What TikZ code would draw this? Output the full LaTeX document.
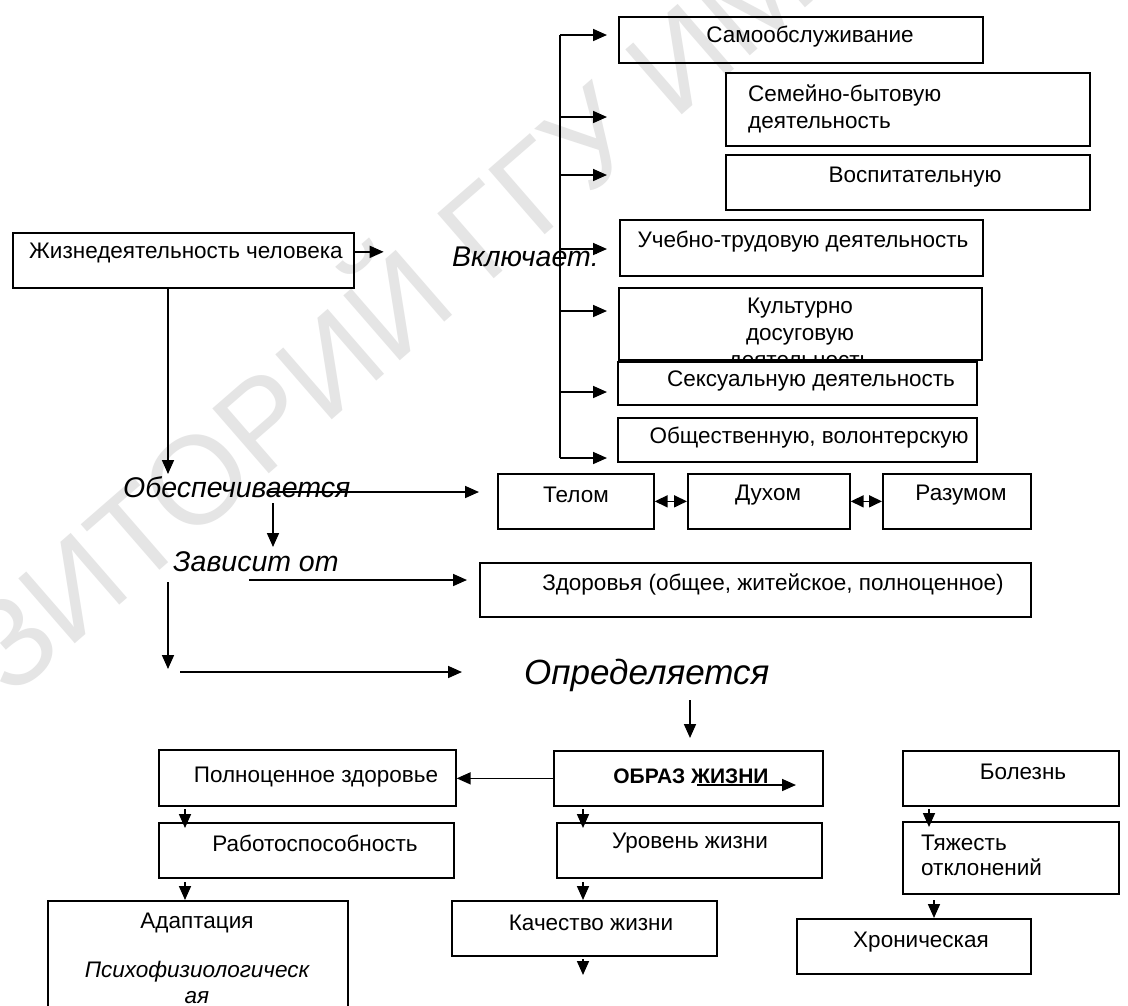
\documentclass[tikz,border=0pt]{standalone}
\usepackage{fontspec}
\setmainfont{Liberation Sans}
\usetikzlibrary{arrows.meta,calc}
\begin{document}
\begin{tikzpicture}[x=1pt,y=-1pt,
  box/.style={draw, line width=1.7pt, rectangle, inner sep=0pt, anchor=north west},
  arr/.style={line width=1.7pt, -{Triangle[length=14pt,width=12pt]}},
  darr/.style={line width=1.7pt, {Triangle[length=13pt,width=12pt]}-{Triangle[length=13pt,width=12pt]}},
  ln/.style={line width=1.7pt},
  txt/.style={font=\fontsize{22.5}{27}\selectfont, inner sep=0pt},
  lbl/.style={font=\fontsize{28.5}{32}\selectfont\itshape, inner sep=0pt, anchor=west},
  wmark/.style={text=black!10, font=\fontsize{125}{125}\selectfont, inner sep=0pt, rotate=41, anchor=base west},
]
\fill[white] (0,0) rectangle (1128,1005);
\useasboundingbox (0,0) rectangle (1128,1005);
\begin{scope}
\clip (0,0) rectangle (1128,1005);
\node[wmark] (wm) at (-257,932) {РЕПОЗИТОРИЙ ГГУ ИМЕНИ Ф. СКОРИНЫ};
\end{scope}

% ---- boxes, top column
\node[box, minimum width=364pt, minimum height=46pt] (samo) at (618,16) {};
\node[box, minimum width=364pt, minimum height=73pt] (semya) at (725,72) {};
\node[box, minimum width=364pt, minimum height=55pt] (vosp) at (725,154) {};
\node[box, minimum width=363pt, minimum height=56pt] (ucheb) at (619,219) {};
\node[box, minimum width=363pt, minimum height=72pt] (kult) at (618,287) {};
\node[txt] (samoT) at (810,37) {Самообслуживание};
\node[txt, align=left, anchor=west] (semyaT) at (748,108.5) {Семейно-бытовую\\деятельность};
\node[txt] (vospT) at (915,177) {Воспитательную};
\node[txt] (uchebT) at (803,242) {Учебно-трудовую деятельность};
\node[txt, align=center] (kultT) at (800,335) {Культурно\\досуговую\\деятельность};
\node[box, fill=white, minimum width=359pt, minimum height=43pt] (seks) at (617,361) {};
\node[box, minimum width=359pt, minimum height=44pt] (obsch) at (617,417) {};
\node[txt] (seksT) at (811,381) {Сексуальную деятельность};
\node[txt] (obschT) at (809,438) {Общественную, волонтерскую};

% ---- left box
\node[box, minimum width=341pt, minimum height=55pt] (zhizn) at (12,232) {};
\node[txt, anchor=west] (zhiznT) at (29,253) {Жизнедеятельность человека};

% ---- middle row
\node[box, minimum width=156pt, minimum height=55pt] (telo) at (497,473) {};
\node[box, minimum width=162pt, minimum height=55pt] (duh) at (687,473) {};
\node[box, minimum width=148pt, minimum height=55pt] (razum) at (882,473) {};
\node[txt] (teloT) at (576,495) {Телом};
\node[txt] (duhT) at (768,495) {Духом};
\node[txt] (razumT) at (961,495) {Разумом};
\node[box, minimum width=551pt, minimum height=54pt] (zdor) at (479,562) {};
\node[txt] (zdorT) at (773,584) {Здоровья (общее, житейское, полноценное)};

% ---- labels
\node[lbl] (vkl) at (452,257) {Включает:};
\node[lbl] (obesp) at (123,487) {Обеспечивается};
\node[lbl] (zavis) at (173,562) {Зависит от};
\node[lbl, font=\fontsize{35}{40}\selectfont\itshape] (opred) at (524,675) {Определяется};

% ---- bottom boxes
\node[box, minimum width=297pt, minimum height=56pt] (poln) at (158,749) {};
\node[box, minimum width=269pt, minimum height=55pt] (obraz) at (553,750) {};
\node[box, minimum width=216pt, minimum height=55pt] (bolezn) at (902,750) {};
\node[box, minimum width=295pt, minimum height=55pt] (rabot) at (158,822) {};
\node[box, minimum width=265pt, minimum height=55pt] (uroven) at (556,822) {};
\node[box, minimum width=216pt, minimum height=72pt] (tyazh) at (902,821) {};
\node[box, minimum width=300pt, minimum height=120pt] (adapt) at (47,900) {};
\node[box, minimum width=265pt, minimum height=55pt] (kach) at (451,900) {};
\node[box, minimum width=234pt, minimum height=55pt] (hron) at (796,918) {};
\node[txt] (polnT) at (316,777) {Полноценное здоровье};
\node[txt, font=\fontsize{21}{25}\selectfont\bfseries] (obrazT) at (691,776) {ОБРАЗ ЖИЗНИ};
\node[txt] (boleznT) at (1023,772) {Болезнь};
\node[txt] (rabotT) at (315,843) {Работоспособность};
\node[txt] (urovenT) at (690,843) {Уровень жизни};
\node[txt, align=left, anchor=west] (tyazhT) at (921,855.5) {Тяжесть\\[-2pt]отклонений};
\node[txt] (adaptT) at (197,923) {Адаптация};
\node[txt, font=\fontsize{22.5}{27}\selectfont\itshape] (psihT) at (197,972) {Психофизиологическ};
\node[txt, font=\fontsize{22.5}{27}\selectfont\itshape] (psih2T) at (197,998) {ая};
\node[txt] (kachT) at (591,923) {Качество жизни};
\node[txt] (hronT) at (921,942) {Хроническая};

% ---- trunk and arrows to the activities
\coordinate (tTop) at (560,35);
\coordinate (tBot) at (560,458);
\draw[ln] (tTop) -- (tBot);
\foreach \y/\n in {35/samo,117/semya,175/vosp,249/ucheb,311/kult,392/seks,458/obsch}{
  \coordinate (e\n) at (607,\y);
  \draw[arr] (tTop |- e\n) -- (e\n);
}
\draw[arr] ([yshift=8.5pt]zhizn.east) -- ++(29,0);

% ---- left chain
\coordinate (d1) at (168,474);
\draw[arr] (zhizn.south -| d1) -- (d1);
\coordinate (o1) at (268,492);
\draw[arr, shorten >=18pt] (o1) -- (telo.west |- o1);
\coordinate (o2) at (273,503);
\coordinate (o3) at (273,547);
\draw[arr] (o2) -- (o3);
\coordinate (z1) at (249,580);
\draw[arr, shorten >=12pt] (z1) -- (zdor.west |- z1);
\coordinate (v1) at (168,582);
\coordinate (v2) at (168,669);
\draw[arr] (v1) -- (v2);
\coordinate (h1) at (180,672);
\coordinate (h2) at (462,672);
\draw[arr] (h1) -- (h2);
\coordinate (p1) at (690,700);
\coordinate (p2) at (690,738);
\draw[arr] (p1) -- (p2);

% ---- double arrows
\draw[darr] (telo.east) -- (duh.west);
\draw[darr] (duh.east) -- (razum.west);

% ---- bottom arrows
\draw[arr] (obraz.west) -- (poln.east |- obraz.west);
\coordinate (u1) at (697,785);
\coordinate (u2) at (796,785);
\draw[arr] (u1) -- (u2);
\coordinate (a1) at (185,809); \coordinate (a2) at (185,828);
\draw[arr] (a1) -- (a2);
\coordinate (a3) at (185,882); \coordinate (a4) at (185,900);
\draw[arr] (a3) -- (a4);
\coordinate (b1) at (583,809); \coordinate (b2) at (583,828);
\draw[arr] (b1) -- (b2);
\coordinate (b3) at (583,882); \coordinate (b4) at (583,900);
\draw[arr] (b3) -- (b4);
\coordinate (b5) at (583,959); \coordinate (b6) at (583,975);
\draw[arr] (b5) -- (b6);
\coordinate (c1) at (929,809); \coordinate (c2) at (929,827);
\draw[arr] (c1) -- (c2);
\coordinate (c3) at (934,900); \coordinate (c4) at (934,918);
\draw[arr] (c3) -- (c4);
\end{tikzpicture}
\end{document}
